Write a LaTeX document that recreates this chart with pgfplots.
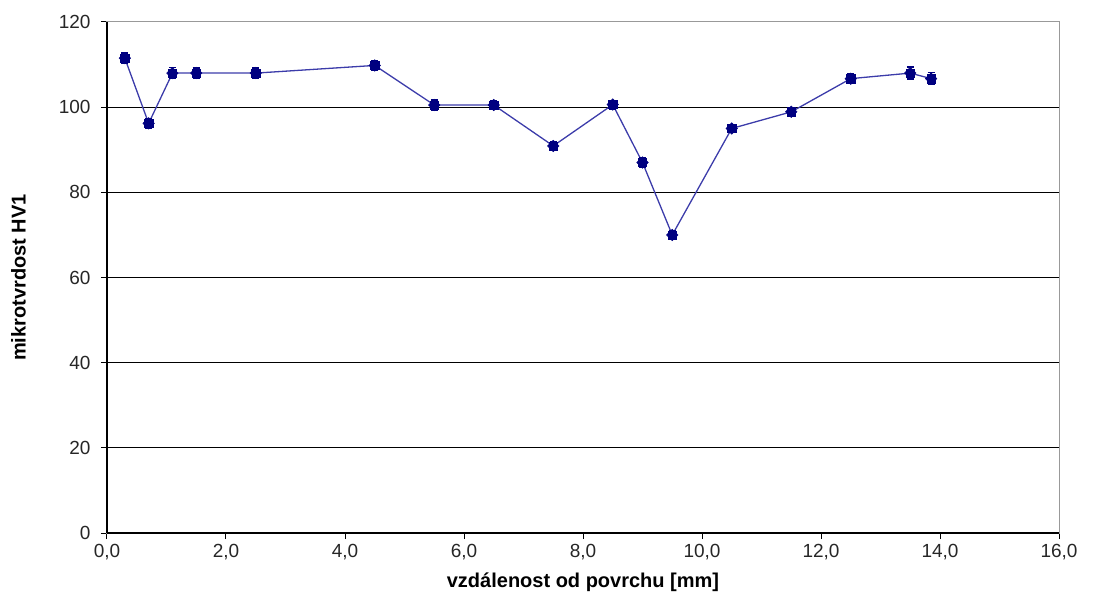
\documentclass[border=0pt]{standalone}
\usepackage{pgfplots}
\pgfplotsset{compat=1.18}
\usepackage{pgfplotstable}
\usepackage{fontspec}
\setmainfont{Liberation Sans}
\definecolor{navy}{RGB}{0,0,128}
\definecolor{linecol}{RGB}{60,60,170}
\pgfdeclareplotmark{xlstar}{%
  \pgfpathrectangle{\pgfpoint{-0.75\pgfplotmarksize}{-0.75\pgfplotmarksize}}{\pgfpoint{1.5\pgfplotmarksize}{1.5\pgfplotmarksize}}%
  \pgfusepathqfillstroke
  \pgfpathmoveto{\pgfpoint{0pt}{1.05\pgfplotmarksize}}%
  \pgfpathlineto{\pgfpoint{1.05\pgfplotmarksize}{0pt}}%
  \pgfpathlineto{\pgfpoint{0pt}{-1.05\pgfplotmarksize}}%
  \pgfpathlineto{\pgfpoint{-1.05\pgfplotmarksize}{0pt}}%
  \pgfpathclose
  \pgfusepathqfillstroke
}
\pgfplotstableread{
x y e
0.3 111.5 1.2
0.7 96.2 1.2
1.1 108.0 1.3
1.5 108.0 1.2
2.5 108.0 1.2
4.5 109.8 1.2
5.5 100.5 1.2
6.5 100.5 1.0
7.5 90.9 1.0
8.5 100.6 1.0
9.0 87.0 1.2
9.5 70.0 1.0
10.5 95.0 1.0
11.5 98.9 1.0
12.5 106.7 1.2
13.5 108.0 1.4
13.85 106.7 1.4
}\datatable
\begin{document}
\begin{tikzpicture}
\path[use as bounding box] (-107pt,-70pt) rectangle (986pt,533pt);
\begin{axis}[
  at={(0pt,0pt)}, anchor=origin,
  scale only axis,
  width=952pt, height=511pt,
  xmin=0, xmax=16, ymin=0, ymax=120,
  xtick={0,2,...,16},
  ytick={0,20,...,120},
  extra y ticks={0,20,...,100},
  extra y tick labels={},
  extra y tick style={grid=major, major grid style={black, line width=1.3pt}, tick style={draw=none}},
  extra x ticks={0},
  extra x tick labels={},
  extra x tick style={grid=major, major grid style={black, line width=1.3pt}, tick style={draw=none}},
  axis line style={gray!80, line width=1pt},
  tick align=outside,
  major tick length=6pt,
  tick style={black, line width=1pt},
  xtick pos=bottom, ytick pos=left,
  /pgf/number format/assume math mode=true,
  xticklabel={\pgfmathprintnumber[fixed, fixed zerofill, precision=1, use comma]{\tick}},
  yticklabel={\pgfmathprintnumber[fixed]{\tick}},
  ticklabel style={font=\fontsize{19}{22}\selectfont, text=black!85},
  xticklabel style={yshift=-2pt},
  yticklabel style={xshift=-7pt},
  xlabel={\textbf{vzdálenost od povrchu [mm]}},
  ylabel={\textbf{mikrotvrdost HV1}},
  label style={font=\fontsize{20}{24}\selectfont},
  xlabel style={yshift=6pt},
  ylabel style={yshift=14pt},
  clip=false,
]
\addplot[color=linecol, line width=1.3pt,
  mark=xlstar, mark size=5.5pt,
  mark options={fill=navy, draw=navy, line width=0.5pt, solid},
  error bars/.cd, y dir=both, y explicit,
  error bar style={navy, line width=1.3pt},
  error mark options={rotate=90, mark size=3.5pt, navy, line width=1.3pt}
] table[x=x, y=y, y error=e] {\datatable};
\end{axis}
\end{tikzpicture}
\end{document}
